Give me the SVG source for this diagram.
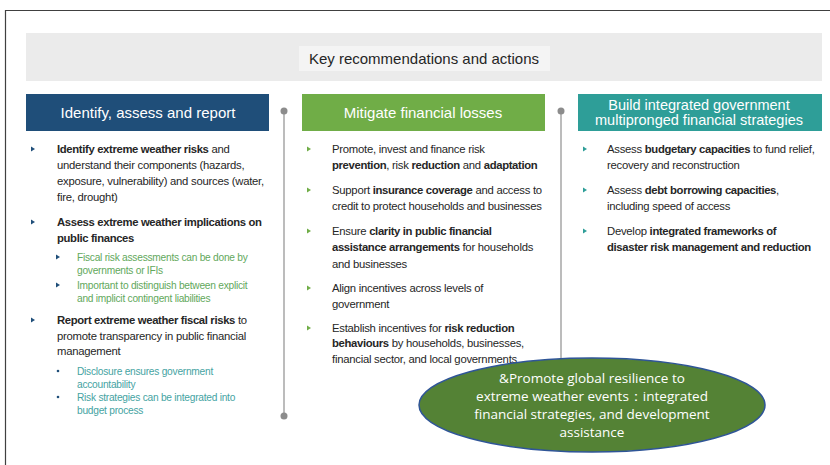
<svg xmlns="http://www.w3.org/2000/svg" width="830" height="465" viewBox="0 0 830 465">
<style>
.t{font-family:"Liberation Sans",Arial,sans-serif;font-size:11.3px;fill:#262626;letter-spacing:-0.25px}
.s{font-family:"Liberation Sans",Arial,sans-serif;font-size:10.2px;letter-spacing:-0.25px}
.g{fill:#62a85c}
.c{fill:#45a3a2}
.b{font-weight:bold;letter-spacing:-0.35px}
.h{font-family:"Liberation Sans",Arial,sans-serif;font-size:15px;fill:#ffffff;text-anchor:middle}
.h2{font-size:14.5px}
.div{stroke:#a6a6a6;stroke-width:1.5}
.dot{fill:#8c8c8c}
.e{font-family:"Open Sans","Noto Sans",sans-serif;font-size:13.5px;fill:#ffffff;text-anchor:middle}
</style>
<defs>
<polygon id="tri" points="-2,-2.5 2,0 -2,2.5"/>
</defs>
<rect width="830" height="465" fill="#ffffff"/>
<path d="M5.5,465 V10.5 H830" fill="none" stroke="#404040" stroke-width="1.2"/>

<g id="title">
<rect x="26" y="33" width="796" height="48" fill="#ebebeb"/>
<rect x="299" y="46" width="251" height="25" fill="#f4f4f4"/>
<text x="424" y="64" style="font-family:'Liberation Sans',Arial,sans-serif;font-size:15px;fill:#262626" text-anchor="middle">Key recommendations and actions</text>
</g>

<g id="connectors">
<line class="div" x1="284" y1="111" x2="284" y2="416"/>
<circle class="dot" cx="284" cy="111" r="3.5"/>
<circle class="dot" cx="284" cy="416" r="3.5"/>
<line class="div" x1="561" y1="111" x2="561" y2="360"/>
<circle class="dot" cx="561" cy="111" r="3.5"/>
</g>

<g id="col1">
<rect x="26" y="94" width="243" height="37" fill="#1f4e79"/>
<text class="h" x="148" y="118">Identify, assess and report</text>
<g fill="#1f4e79">
<use href="#tri" x="33" y="149"/><use href="#tri" x="33" y="222"/><use href="#tri" x="33" y="320"/>
<use href="#tri" x="58" y="257"/><use href="#tri" x="58" y="285"/>
<circle cx="58" cy="371" r="1.3"/><circle cx="58" cy="397" r="1.3"/>
</g>
<text class="t" x="57" y="153"><tspan class="b">Identify extreme weather risks</tspan> and</text>
<text class="t" x="57" y="169">understand their components (hazards,</text>
<text class="t" x="57" y="185">exposure, vulnerability) and sources (water,</text>
<text class="t" x="57" y="201">fire, drought)</text>
<text class="t b" x="57" y="226">Assess extreme weather implications on</text>
<text class="t b" x="57" y="242">public finances</text>
<text class="s g" x="77" y="261">Fiscal risk assessments can be done by</text>
<text class="s g" x="77" y="274">governments or IFIs</text>
<text class="s g" x="77" y="289">Important to distinguish between explicit</text>
<text class="s g" x="77" y="302">and implicit contingent liabilities</text>
<text class="t" x="57" y="324"><tspan class="b">Report extreme weather fiscal risks</tspan> to</text>
<text class="t" x="57" y="340">promote transparency in public financial</text>
<text class="t" x="57" y="355">management</text>
<text class="s c" x="77" y="375">Disclosure ensures government</text>
<text class="s c" x="77" y="388">accountability</text>
<text class="s c" x="77" y="401">Risk strategies can be integrated into</text>
<text class="s c" x="77" y="414">budget process</text>
</g>

<g id="col2">
<rect x="302" y="94" width="243" height="37" fill="#70ad47"/>
<text class="h" x="423" y="118">Mitigate financial losses</text>
<g fill="#70ad47">
<use href="#tri" x="309" y="149"/><use href="#tri" x="309" y="190"/><use href="#tri" x="309" y="231"/><use href="#tri" x="309" y="288"/><use href="#tri" x="309" y="328"/>
</g>
<text class="t" x="332" y="153">Promote, invest and finance risk</text>
<text class="t" x="332" y="169"><tspan class="b">prevention</tspan>, risk <tspan class="b">reduction</tspan> and <tspan class="b">adaptation</tspan></text>
<text class="t" x="332" y="194">Support <tspan class="b">insurance coverage</tspan> and access to</text>
<text class="t" x="332" y="210">credit to protect households and businesses</text>
<text class="t" x="332" y="235">Ensure <tspan class="b">clarity in public financial</tspan></text>
<text class="t" x="332" y="251"><tspan class="b">assistance arrangements</tspan> for households</text>
<text class="t" x="332" y="268">and businesses</text>
<text class="t" x="332" y="292">Align incentives across levels of</text>
<text class="t" x="332" y="308">government</text>
<text class="t" x="332" y="332">Establish incentives for <tspan class="b">risk reduction</tspan></text>
<text class="t" x="332" y="347"><tspan class="b">behaviours</tspan> by households, businesses,</text>
<text class="t" x="332" y="363">financial sector, and local governments</text>
</g>

<g id="col3">
<rect x="578" y="94" width="244" height="37" fill="#2e9e98"/>
<text class="h h2" x="699" y="110">Build integrated government</text>
<text class="h h2" x="699" y="125">multipronged financial strategies</text>
<g fill="#2e9e98">
<use href="#tri" x="585" y="149"/><use href="#tri" x="585" y="190"/><use href="#tri" x="585" y="231"/>
</g>
<text class="t" x="607" y="153">Assess <tspan class="b">budgetary capacities</tspan> to fund relief,</text>
<text class="t" x="607" y="169">recovery and reconstruction</text>
<text class="t" x="607" y="194">Assess <tspan class="b">debt borrowing capacities</tspan>,</text>
<text class="t" x="607" y="210">including speed of access</text>
<text class="t" x="607" y="235">Develop <tspan class="b">integrated frameworks of</tspan></text>
<text class="t b" x="607" y="251">disaster risk management and reduction</text>
</g>

<g id="ellipse">
<ellipse cx="592" cy="405" rx="173" ry="47" fill="#548235" stroke="#2f5597" stroke-width="1.5"/>
<text class="e" x="592" y="383">&amp;Promote global resilience to</text>
<text class="e" x="592" y="401">extreme weather events：integrated</text>
<text class="e" x="592" y="419">financial strategies, and development</text>
<text class="e" x="592" y="437">assistance</text>
</g>
</svg>
